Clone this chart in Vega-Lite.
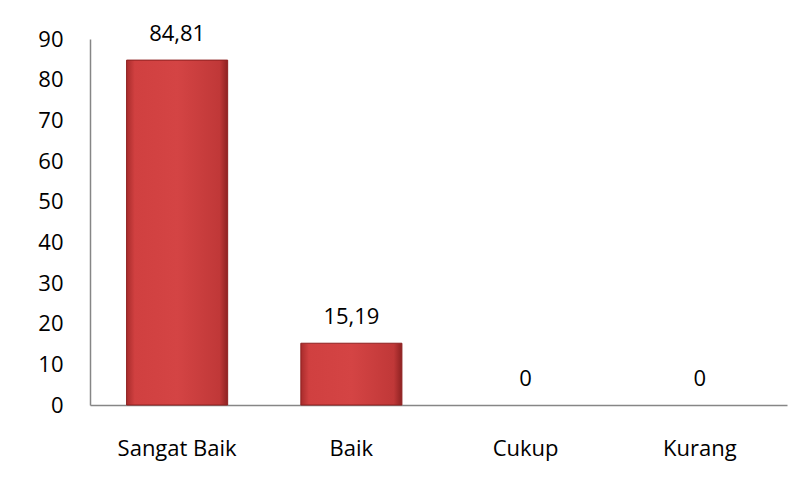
{
  "$schema": "https://vega.github.io/schema/vega-lite/v6.json",
  "autosize": "none",
  "width": 697,
  "height": 366,
  "padding": {"left": 90, "top": 39, "right": 16, "bottom": 82},
  "background": "white",
  "config": {
    "view": {"stroke": null},
    "font": "Open Sans",
    "axis": {"labelFont": "Open Sans", "labelFontSize": 22, "labelColor": "#000000", "domainColor": "#868686", "domainWidth": 1.5, "ticks": false, "grid": false, "title": null}
  },
  "data": {
    "values": [
      {"kategori": "Sangat Baik", "nilai": 84.81, "label": "84,81"},
      {"kategori": "Baik", "nilai": 15.19, "label": "15,19"},
      {"kategori": "Cukup", "nilai": 0, "label": "0"},
      {"kategori": "Kurang", "nilai": 0, "label": "0"}
    ]
  },
  "encoding": {
    "x": {
      "field": "kategori",
      "type": "nominal",
      "sort": null,
      "scale": {"paddingInner": 0.42, "paddingOuter": 0.21},
      "axis": {"labelAngle": 0, "labelPadding": 33}
    },
    "y": {
      "field": "nilai",
      "type": "quantitative",
      "scale": {"domain": [0, 90], "nice": false},
      "axis": {"values": [0, 10, 20, 30, 40, 50, 60, 70, 80, 90], "labelPadding": 27}
    }
  },
  "layer": [
    {
      "transform": [{"filter": "datum.nilai > 0"}],
      "mark": {
        "type": "bar",
        "stroke": "#8e2020",
        "strokeWidth": 1,
        "fill": {
          "x1": 0, "y1": 0, "x2": 1, "y2": 0,
          "gradient": "linear",
          "stops": [
            {"offset": 0, "color": "#a82c2c"},
            {"offset": 0.08, "color": "#d04040"},
            {"offset": 0.5, "color": "#d44444"},
            {"offset": 0.92, "color": "#c03838"},
            {"offset": 1, "color": "#8e2222"}
          ]
        }
      }
    },
    {
      "mark": {"type": "text", "baseline": "middle", "dy": -26, "fontSize": 22, "color": "#000000"},
      "encoding": {"text": {"field": "label"}}
    }
  ]
}
